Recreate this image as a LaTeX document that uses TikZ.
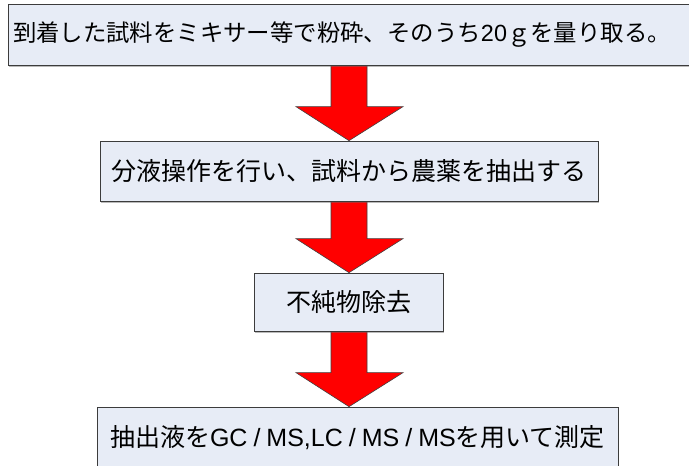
\documentclass[tikz,border=0pt]{standalone}
\usepackage{fontspec}
\setmainfont{Liberation Sans}
\newfontfamily\jp{Noto Sans CJK JP}
\newfontfamily\lat{Liberation Sans}
\usetikzlibrary{shadows,backgrounds,calc}
\definecolor{boxfill}{RGB}{231,236,246}
\definecolor{boxline}{RGB}{60,60,60}
\newcommand\fsl{\hspace{6pt}/\hspace{6pt}}
\tikzset{
  stepbox/.style={draw=boxline, line width=0.7pt, fill=boxfill, rectangle,
    inner xsep=5pt, inner ysep=0pt,
    drop shadow={shadow xshift=1pt, shadow yshift=-2pt, opacity=0.45, fill=black!60},
    font=\jp\fontsize{25}{30}\selectfont},
  redarrow/.style={fill=red, draw=black!75, line width=0.6pt, line join=miter}
}
\begin{document}
\begin{tikzpicture}[x=1pt,y=-1pt]
\useasboundingbox (0,0) rectangle (689,466);
\node[stepbox, minimum width=684pt, minimum height=61pt, text width=674pt, align=left,
  font=\jp\fontsize{23.4}{28}\selectfont] (b1) at (350,34.5)
  {到着した試料をミキサー等で粉砕、そのうち{\lat 20}ｇを量り取る。};
\node[stepbox, minimum width=498pt, minimum height=60pt] (b2) at (349,171)
  {分液操作を行い、試料から農薬を抽出する};
\node[stepbox, minimum width=189pt, minimum height=58pt] (b3) at (348.5,302)
  {不純物除去};
\node[stepbox, minimum width=521pt, minimum height=61pt] (b4) at (357.5,437.5)
  {抽出液を{\lat GC\fsl MS,LC\fsl MS\fsl MS}を用いて測定};
\begin{scope}[on background layer]
\fill[white] (0,0) rectangle (689,466);
\foreach \a/\b in {b1/b2, b2/b3, b3/b4}{
  \draw[redarrow] let \p1=(\a.south), \p2=(\b.north) in
    (331pt,\y1) -- (331pt,{\y2+34pt}) -- (296pt,{\y2+34pt}) -- (349pt,\y2)
    -- (403pt,{\y2+34pt}) -- (367pt,{\y2+34pt}) -- (367pt,\y1) -- cycle;
}
\end{scope}
\end{tikzpicture}
\end{document}
